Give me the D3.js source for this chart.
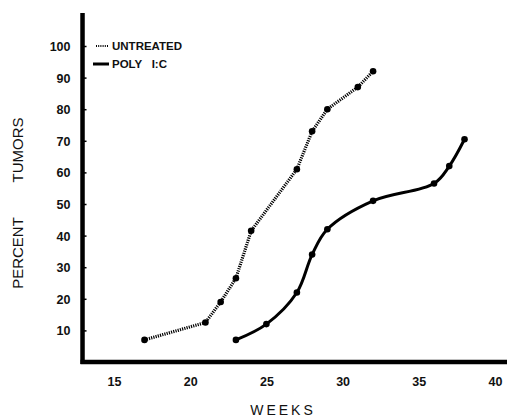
<!DOCTYPE html>
<html>
<head>
<meta charset="utf-8">
<script src="https://cdn.jsdelivr.net/npm/d3@7"></script>
<style>
  body { margin: 0; background: #fff; }
  svg text { font-family: "Liberation Sans", Arial, sans-serif; fill: #111; }
</style>
</head>
<body>
<script>
// values (weeks vs percent tumors)
var untreatedWeeks = [17, 21, 22, 23, 24, 27, 28, 29, 31, 32];
var untreatedPct   = [7, 12.5, 19, 26.5, 41.5, 61, 73, 80, 87, 92];
var polyWeeks = [23, 25, 27, 28, 29, 32, 36, 37, 38];
var polyPct   = [7, 12, 22, 34, 42, 51, 56.5, 62, 70.5];
var xTicks = [15, 20, 25, 30, 35, 40];
var yTicks = [10, 20, 30, 40, 50, 60, 70, 80, 90, 100];
var legendLabels = ["UNTREATED", "POLY   I:C"];

var width = 507, height = 417;

var svg = d3.select("body").append("svg")
  .attr("width", width)
  .attr("height", height);

var x = d3.scaleLinear().domain([15, 40]).range([114, 495]);
var y = d3.scaleLinear().domain([0, 100]).range([362, 46]);

var axisX = x(13) - 1;

// y axis line + ticks
svg.append("line")
  .attr("x1", axisX).attr("x2", axisX)
  .attr("y1", 13).attr("y2", y(0) + 2)
  .style("stroke", "#000").style("stroke-width", 4.5);

var yAxis = svg.append("g").attr("transform", "translate(" + axisX + ",0)");
yAxis.call(d3.axisRight(y).tickValues(yTicks).tickSize(4).tickFormat(""));
yAxis.select(".domain").remove();
yAxis.selectAll("line").style("stroke", "#000").style("stroke-width", 1.5);

svg.append("g").selectAll("text")
  .data(yTicks)
  .enter().append("text")
  .attr("x", axisX - 12)
  .attr("y", d => y(d) + 5)
  .attr("text-anchor", "end")
  .style("font-size", "12.5px")
  .style("font-weight", "bold")
  .text(d => d);

// x axis line + labels
svg.append("line")
  .attr("x1", axisX - 2).attr("x2", width)
  .attr("y1", y(0)).attr("y2", y(0))
  .style("stroke", "#000").style("stroke-width", 4.5);

var xAxis = svg.append("g").attr("transform", "translate(0," + y(0) + ")");
xAxis.call(d3.axisBottom(x).tickValues(xTicks).tickSize(0).tickPadding(15));
xAxis.select(".domain").remove();
xAxis.selectAll("text")
  .style("font-size", "12.5px")
  .style("font-weight", "bold")
  .style("font-family", "Liberation Sans, Arial, sans-serif")
  .style("fill", "#111");

// axis titles
svg.append("text")
  .attr("transform", "translate(23,150) rotate(-90)")
  .attr("text-anchor", "middle")
  .style("font-size", "15px")
  .text("TUMORS");
svg.append("text")
  .attr("transform", "translate(23,253) rotate(-90)")
  .attr("text-anchor", "middle")
  .style("font-size", "15px")
  .text("PERCENT");
svg.append("text")
  .attr("x", 283).attr("y", 415)
  .attr("text-anchor", "middle")
  .style("font-size", "14px")
  .style("letter-spacing", "3px")
  .text("WEEKS");

// series
var untreated = untreatedWeeks.map((w, i) => [w, untreatedPct[i]]);
var poly = polyWeeks.map((w, i) => [w, polyPct[i]]);

var lineLin = d3.line().x(d => x(d[0])).y(d => y(d[1]));
var lineCurve = d3.line().x(d => x(d[0])).y(d => y(d[1]))
  .curve(d3.curveCatmullRom.alpha(0.5));

svg.append("path")
  .datum(untreated)
  .attr("d", lineLin)
  .style("fill", "none")
  .style("stroke", "#000")
  .style("stroke-width", 3.2)
  .style("stroke-dasharray", "1.2,1.1");

svg.append("path")
  .datum(poly)
  .attr("d", lineCurve)
  .style("fill", "none")
  .style("stroke", "#000")
  .style("stroke-width", 3)
  .style("stroke-linejoin", "round");

svg.append("g").selectAll("circle")
  .data(untreated.concat(poly))
  .enter().append("circle")
  .attr("cx", d => x(d[0]))
  .attr("cy", d => y(d[1]))
  .attr("r", 3.3)
  .style("fill", "#000");

// legend
var legend = svg.append("g");
legend.append("line")
  .attr("x1", 96).attr("x2", 108).attr("y1", 46).attr("y2", 46)
  .style("stroke", "#000").style("stroke-width", 2)
  .style("stroke-dasharray", "1,1.2");
legend.append("line")
  .attr("x1", 93).attr("x2", 109).attr("y1", 64).attr("y2", 64)
  .style("stroke", "#000").style("stroke-width", 3);
legend.selectAll("text")
  .data(legendLabels)
  .enter().append("text")
  .attr("x", 112)
  .attr("y", (d, i) => 50 + i * 18)
  .style("font-size", "11.5px")
  .style("font-weight", "bold")
  .attr("xml:space", "preserve")
  .text(d => d);
</script>
</body>
</html>
